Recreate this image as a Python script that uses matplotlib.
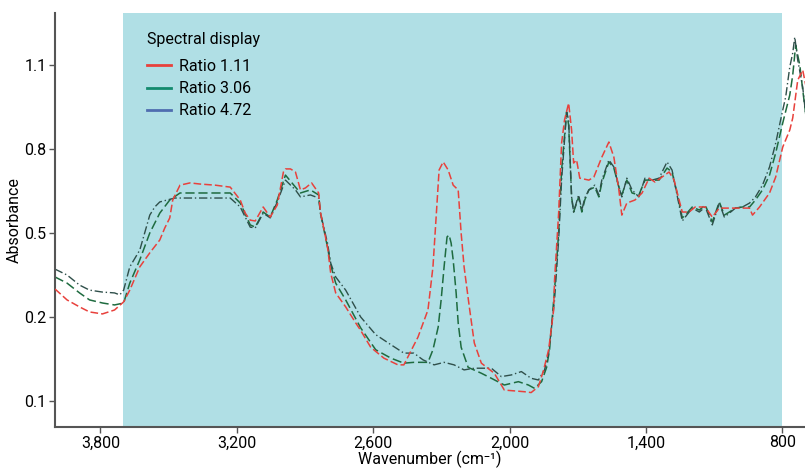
import numpy as np
import matplotlib
matplotlib.use("Agg")
import matplotlib.pyplot as plt
from matplotlib.lines import Line2D

plt.rcParams['font.family'] = ['Roboto', 'DejaVu Sans']

# wavenumber (cm-1) and absorbance
wn_111 = [4000, 3947, 3892, 3848, 3791, 3738, 3698, 3671, 3627, 3583, 3539, 3517, 3495, 3482,
          3450, 3406, 3362, 3296, 3229, 3185, 3163, 3141, 3119, 3084, 3053, 3022, 2995, 2986,
          2964, 2942, 2920, 2898, 2871, 2840, 2832, 2801, 2787, 2765, 2721, 2677, 2655, 2611,
          2553, 2491, 2465, 2403, 2359, 2337, 2323, 2310, 2292, 2270, 2248, 2226, 2213, 2200,
          2177, 2155, 2124, 2067, 2023, 1934, 1905, 1873, 1850, 1828, 1806, 1802, 1784, 1771,
          1758, 1740, 1727, 1718, 1705, 1691, 1651, 1629, 1594, 1563, 1541, 1519, 1506, 1484,
          1448, 1417, 1386, 1360, 1329, 1298, 1276, 1254, 1240, 1210, 1183, 1139, 1108, 1077,
          1033, 975, 944, 931, 900, 856, 829, 798, 767, 754, 732, 710, 688]
ab_111 = [0.300, 0.261, 0.236, 0.218, 0.211, 0.225, 0.254, 0.296, 0.379, 0.429, 0.475, 0.518,
          0.554, 0.618, 0.671, 0.679, 0.675, 0.671, 0.664, 0.618, 0.571, 0.546, 0.543, 0.593,
          0.557, 0.600, 0.718, 0.729, 0.729, 0.718, 0.654, 0.661, 0.679, 0.643, 0.575, 0.450,
          0.357, 0.286, 0.236, 0.193, 0.184, 0.164, 0.151, 0.143, 0.143, 0.176, 0.225, 0.379,
          0.557, 0.725, 0.754, 0.725, 0.671, 0.654, 0.500, 0.379, 0.236, 0.169, 0.145, 0.133,
          0.113, 0.111, 0.110, 0.117, 0.137, 0.161, 0.225, 0.332, 0.571, 0.821, 0.904, 0.964,
          0.868, 0.750, 0.761, 0.696, 0.689, 0.700, 0.771, 0.825, 0.771, 0.654, 0.564, 0.607,
          0.618, 0.643, 0.696, 0.682, 0.700, 0.718, 0.689, 0.618, 0.575, 0.575, 0.593, 0.593,
          0.557, 0.589, 0.589, 0.589, 0.589, 0.564, 0.593, 0.643, 0.700, 0.807, 0.868, 0.911,
          1.046, 1.082, 0.993]

wn_306 = [4000, 3947, 3892, 3848, 3791, 3738, 3698, 3671, 3627, 3583, 3539, 3495, 3450, 3362,
          3229, 3185, 3141, 3119, 3084, 3053, 3022, 2986, 2942, 2920, 2876, 2840, 2832, 2801,
          2787, 2765, 2721, 2655, 2589, 2522, 2465, 2421, 2359, 2337, 2314, 2301, 2288, 2275,
          2266, 2257, 2248, 2235, 2226, 2213, 2182, 2124, 2080, 2023, 1961, 1917, 1890, 1859,
          1837, 1824, 1802, 1784, 1771, 1749, 1740, 1727, 1718, 1696, 1682, 1669, 1651, 1625,
          1607, 1594, 1563, 1541, 1519, 1506, 1484, 1461, 1431, 1404, 1373, 1342, 1307, 1285,
          1263, 1240, 1227, 1196, 1165, 1139, 1108, 1077, 1055, 1033, 1006, 975, 944, 918, 887,
          856, 829, 798, 767, 754, 741, 723, 710, 688]
ab_306 = [0.343, 0.321, 0.286, 0.261, 0.250, 0.243, 0.250, 0.321, 0.404, 0.500, 0.571, 0.618,
          0.643, 0.643, 0.643, 0.607, 0.529, 0.521, 0.575, 0.557, 0.618, 0.707, 0.664, 0.643,
          0.654, 0.636, 0.571, 0.450, 0.386, 0.321, 0.261, 0.187, 0.161, 0.151, 0.145, 0.146,
          0.146, 0.161, 0.188, 0.261, 0.379, 0.486, 0.493, 0.464, 0.404, 0.286, 0.193, 0.164,
          0.140, 0.133, 0.127, 0.119, 0.123, 0.119, 0.115, 0.123, 0.140, 0.161, 0.296, 0.500,
          0.725, 0.932, 0.886, 0.629, 0.575, 0.629, 0.575, 0.618, 0.654, 0.664, 0.629, 0.679,
          0.754, 0.732, 0.664, 0.636, 0.689, 0.643, 0.636, 0.689, 0.689, 0.689, 0.732, 0.718,
          0.643, 0.554, 0.564, 0.593, 0.582, 0.600, 0.539, 0.611, 0.564, 0.575, 0.589, 0.593,
          0.593, 0.618, 0.654, 0.707, 0.786, 0.893, 0.993, 1.064, 1.171, 1.100, 1.011, 0.868]

wn_472 = [4000, 3947, 3892, 3848, 3791, 3738, 3715, 3698, 3671, 3627, 3583, 3561, 3539, 3473,
          3362, 3229, 3185, 3141, 3119, 3084, 3053, 3022, 2986, 2942, 2920, 2876, 2840, 2832,
          2801, 2787, 2765, 2721, 2655, 2589, 2522, 2465, 2421, 2381, 2332, 2288, 2244, 2200,
          2155, 2080, 2036, 1992, 1948, 1905, 1873, 1846, 1828, 1802, 1784, 1771, 1749, 1740,
          1727, 1718, 1696, 1682, 1669, 1651, 1625, 1607, 1594, 1563, 1541, 1519, 1506, 1484,
          1461, 1431, 1404, 1373, 1342, 1307, 1285, 1263, 1240, 1227, 1196, 1165, 1139, 1108,
          1077, 1055, 1033, 1006, 975, 944, 918, 887, 856, 829, 798, 785, 767, 754, 745, 732,
          710, 688]
ab_472 = [0.371, 0.350, 0.314, 0.296, 0.289, 0.286, 0.279, 0.296, 0.379, 0.439, 0.564, 0.593,
          0.611, 0.625, 0.625, 0.625, 0.593, 0.521, 0.518, 0.571, 0.554, 0.611, 0.689, 0.654,
          0.629, 0.636, 0.625, 0.571, 0.464, 0.393, 0.343, 0.296, 0.200, 0.179, 0.167, 0.157,
          0.157, 0.149, 0.143, 0.146, 0.143, 0.137, 0.139, 0.139, 0.129, 0.131, 0.135, 0.127,
          0.125, 0.137, 0.157, 0.261, 0.475, 0.689, 0.932, 0.904, 0.629, 0.575, 0.636, 0.582,
          0.625, 0.654, 0.671, 0.636, 0.689, 0.761, 0.736, 0.664, 0.629, 0.696, 0.654, 0.629,
          0.696, 0.689, 0.696, 0.754, 0.725, 0.636, 0.543, 0.557, 0.589, 0.575, 0.593, 0.529,
          0.607, 0.557, 0.571, 0.589, 0.593, 0.607, 0.629, 0.671, 0.736, 0.821, 0.939, 0.986,
          1.093, 1.143, 1.200, 1.118, 1.021, 0.857]

labels = ['Ratio 1.11', 'Ratio 3.06', 'Ratio 4.72']
x_ticks = [3800, 3200, 2600, 2000, 1400, 800]
y_ticks = [0.1, 0.2, 0.5, 0.8, 1.1]


# uneven absorbance axis: ticks 0.1, 0.2, 0.5, 0.8, 1.1 are evenly spaced
def fwd(v):
    v = np.asarray(v, dtype=float)
    return np.where(v < 0.2, (v - 0.1) / 0.1, 1 + (v - 0.2) / 0.3)


def inv(p):
    p = np.asarray(p, dtype=float)
    return np.where(p < 1, 0.1 + 0.1 * p, 0.2 + 0.3 * (p - 1))


fig = plt.figure(figsize=(8.05, 4.69), dpi=100)
ax = fig.add_axes([55 / 805, 42 / 469, 750 / 805, 414 / 469])
ax.set_yscale('function', functions=(fwd, inv))

ax.axvspan(3700, 800, color='#b0dfe5', lw=0, zorder=0)

ax.plot(wn_111, ab_111, color='#e8413c', lw=1.1, ls=(0, (5, 2)), zorder=3)
ax.plot(wn_306, ab_306, color='#1e6b3f', lw=1.1, ls=(0, (6, 2.5)), zorder=2)
ax.plot(wn_472, ab_472, color='#2f4f4a', lw=1.0, ls=(0, (6, 2, 1, 2)), zorder=2)

ax.set_xlim(4000, 700)
ax.set_ylim(0.069, 1.286)
ax.set_xticks(x_ticks)
ax.set_xticklabels([f'{t:,}' for t in x_ticks])
ax.set_yticks(y_ticks)
ax.set_yticklabels([str(t) for t in y_ticks])
ax.minorticks_off()

ax.set_xlabel('Wavenumber (cm\u207b\u00b9)', fontsize=11.5, labelpad=0)
ax.set_ylabel('Absorbance', fontsize=11.5, labelpad=2)
ax.tick_params(labelsize=11.5, length=4, width=1, color='#555555', pad=2)
for s in ['top', 'right']:
    ax.spines[s].set_visible(False)
for s in ['left', 'bottom']:
    ax.spines[s].set_color('#555555')
    ax.spines[s].set_linewidth(1.5)

handles = [Line2D([], [], color=c, lw=2) for c in ['#e8413c', '#138a6e', '#4f6db0']]
leg = ax.legend(handles, labels, title='Spectral display', loc='upper left',
                bbox_to_anchor=(0.103, 0.99), frameon=False, fontsize=11.5,
                title_fontsize=11.5, handlelength=1.5, handletextpad=0.5, labelspacing=0.45)
leg._legend_box.align = 'left'
leg._legend_box.sep = 9

fig.savefig('out.png', dpi=100)
